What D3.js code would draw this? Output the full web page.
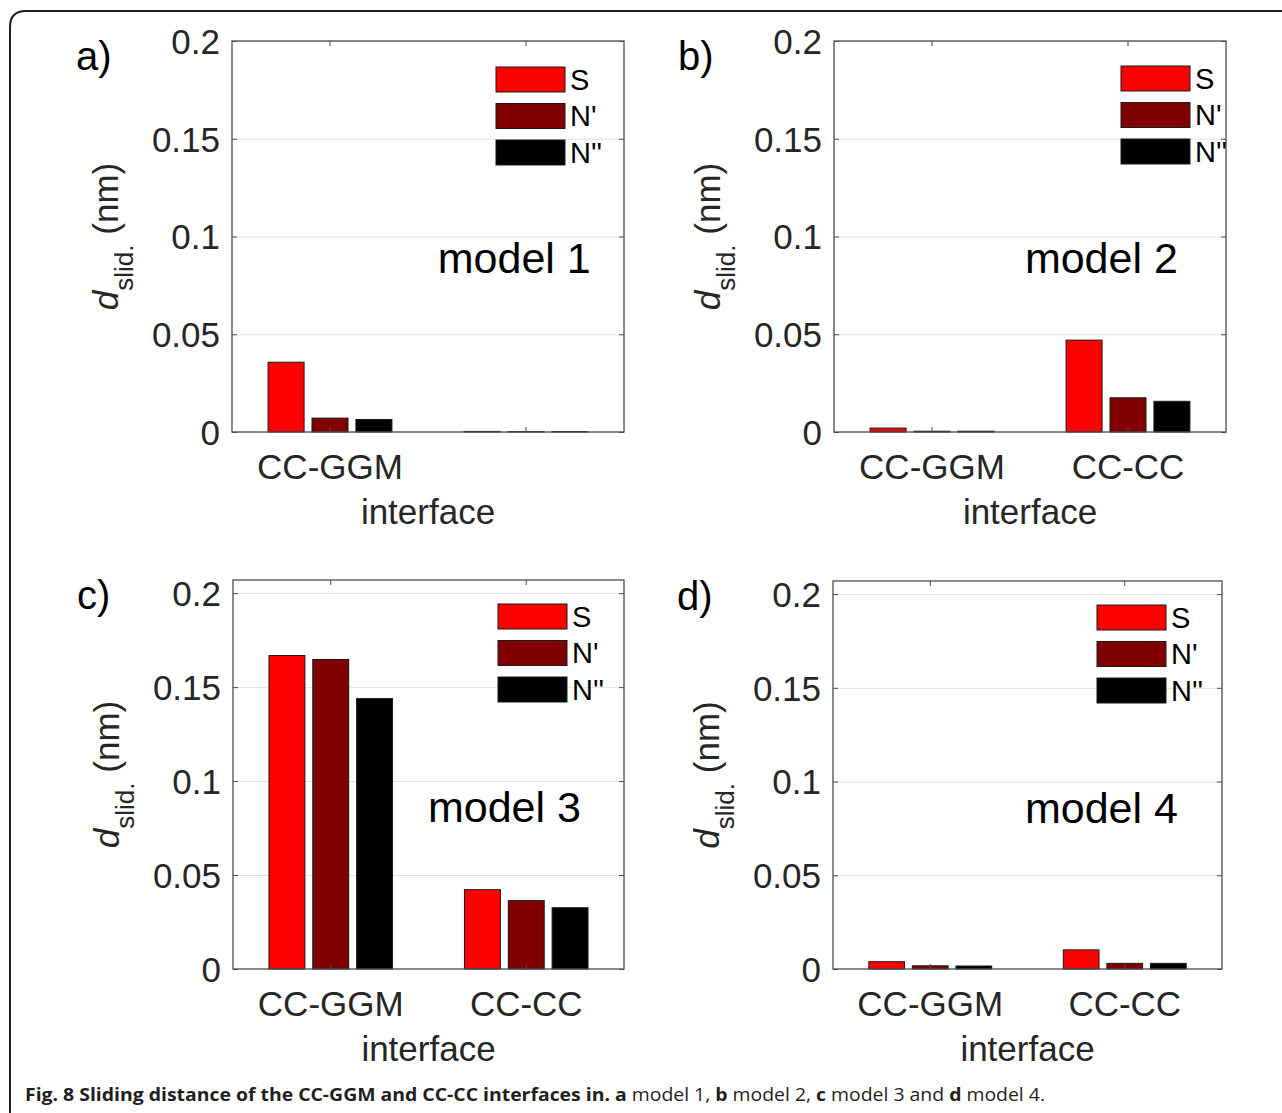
<!DOCTYPE html>
<html>
<head>
<meta charset="utf-8">
<script src="https://cdn.jsdelivr.net/npm/d3@7"></script>
<style>
  body { margin: 0; background: #fff; }
  svg { display: block; }
</style>
</head>
<body>
<svg id="chart" width="1282" height="1113"></svg>
<script>
// categories, series and tick labels
const categories = ["CC-GGM", "CC-CC"];
const seriesNames = ["S", "N'", "N''"];
const seriesColors = ["#ff0000", "#800000", "#000000"];
const yTicks = [0, 0.05, 0.1, 0.15, 0.2];
const yTickLabels = ["0", "0.05", "0.1", "0.15", "0.2"];

// values per model: [series][category]
const model1Values = [[0.0357, 0.0003], [0.0071, 0.0002], [0.0064, 0.0002]];
const model2Values = [[0.0020, 0.0470], [0.0004, 0.0175], [0.0004, 0.0157]];
const model3Values = [[0.1668, 0.0422], [0.1647, 0.0364], [0.1439, 0.0326]];
const model4Values = [[0.0039, 0.0102], [0.0017, 0.0030], [0.0016, 0.0030]];

const panelLetters = ["a)", "b)", "c)", "d)"];
const modelNames = ["model 1", "model 2", "model 3", "model 4"];
const xTickLabels = [["CC-GGM", ""], categories, categories, categories];

// layout of each panel
const panels = [
  { values: model1Values, left: 232, right: 624, top: 41, bottom: 432, ymax: 0.2,   legendX: 496,  legendY: 67,  textX: 1.55, textY: 0.089 },
  { values: model2Values, left: 834, right: 1226, top: 41, bottom: 432, ymax: 0.2,  legendX: 1121, legendY: 66,  textX: 1.474, textY: 0.089 },
  { values: model3Values, left: 233, right: 624, top: 580, bottom: 969, ymax: 0.207, legendX: 498, legendY: 604, textX: 1.497, textY: 0.086 },
  { values: model4Values, left: 833, right: 1222, top: 581, bottom: 969, ymax: 0.207, legendX: 1097, legendY: 605, textX: 1.487, textY: 0.086 }
];

const svg = d3.select("#chart");
const font = "'Liberation Sans', Arial, Helvetica, sans-serif";
const ink = "#262626";

// outer frame
svg.append("path")
  .attr("d", "M1282,11 H26 Q10,11 10,27 V1113")
  .attr("fill", "none")
  .attr("stroke", "#231f20")
  .attr("stroke-width", 2);

panels.forEach((p, i) => {
  const w = p.right - p.left;
  const h = p.bottom - p.top;

  const x = d3.scaleBand().domain(d3.range(categories.length)).range([p.left, p.right]);
  const xs = d3.scaleBand().domain(d3.range(seriesNames.length))
    .range([x.bandwidth() * 0.184, x.bandwidth() * 0.816])
    .paddingInner(0.18);
  const y = d3.scaleLinear().domain([0, p.ymax]).range([p.bottom, p.top]);

  const g = svg.append("g");

  // grid
  g.append("g")
    .attr("transform", `translate(${p.left},0)`)
    .call(d3.axisLeft(y).tickValues(yTicks.slice(1)).tickSize(-w).tickFormat(""))
    .call(s => s.select(".domain").remove())
    .call(s => s.selectAll("line").attr("stroke", "#e3e3e3"));

  // bars
  p.values.forEach((vals, si) => {
    g.append("g").selectAll("rect")
      .data(vals)
      .join("rect")
      .attr("x", (d, ci) => x(ci) + xs(si))
      .attr("width", xs.bandwidth())
      .attr("y", d => y(d))
      .attr("height", d => y(0) - y(d))
      .attr("fill", seriesColors[si])
      .attr("stroke", "#1a1a1a")
      .attr("stroke-width", 1);
  });

  // axes (ticks inward, box on)
  const styleAxis = s => {
    s.select(".domain").remove();
    s.selectAll("line").attr("stroke", "#4d4d4d");
    s.selectAll("text").attr("fill", ink).attr("font-family", font).attr("font-size", 35);
  };
  g.append("g")
    .attr("transform", `translate(${p.left},0)`)
    .call(d3.axisLeft(y).tickValues(yTicks).tickSize(-5).tickPadding(12)
      .tickFormat((d, k) => yTickLabels[k]))
    .call(styleAxis)
    .call(s => s.selectAll("text").attr("dy", "0.35em"));
  g.append("g")
    .attr("transform", `translate(${p.right},0)`)
    .call(d3.axisRight(y).tickValues(yTicks).tickSize(-5).tickFormat(""))
    .call(styleAxis);

  const bottomAxis = d3.axisBottom(x).tickSize(-5).tickPadding(22)
    .tickFormat(k => xTickLabels[i][k]);
  g.append("g")
    .attr("transform", `translate(0,${p.bottom})`)
    .call(bottomAxis)
    .call(styleAxis)
    .call(s => s.selectAll("text").attr("dy", "0.71em"));
  g.append("g")
    .attr("transform", `translate(0,${p.top})`)
    .call(d3.axisTop(x).tickSize(-5).tickFormat(""))
    .call(styleAxis);

  // box
  g.append("rect")
    .attr("x", p.left).attr("y", p.top)
    .attr("width", w).attr("height", h)
    .attr("fill", "none")
    .attr("stroke", "#4d4d4d")
    .attr("stroke-width", 1.3);

  // x label
  g.append("text")
    .attr("x", (p.left + p.right) / 2)
    .attr("y", p.bottom + 92)
    .attr("text-anchor", "middle")
    .attr("font-family", font).attr("font-size", 35).attr("fill", ink)
    .text("interface");

  // y label
  const yl = g.append("text")
    .attr("transform", `translate(${p.left - 114},${(p.top + p.bottom) / 2}) rotate(-90)`)
    .attr("text-anchor", "middle")
    .attr("font-family", font).attr("font-size", 35).attr("fill", ink);
  yl.append("tspan").attr("font-style", "italic").text("d");
  yl.append("tspan").attr("font-size", 26).attr("dy", 15).text("slid.");
  yl.append("tspan").attr("dy", -15).text("\u00a0(nm)");

  // panel letter
  g.append("text")
    .attr("x", p.left - 156)
    .attr("y", p.top + 29)
    .attr("font-family", font).attr("font-size", 40).attr("fill", "#000")
    .text(panelLetters[i]);

  // model annotation
  const xm = d3.scaleLinear().domain([0.5, categories.length + 0.5]).range([p.left, p.right]);
  g.append("text")
    .attr("x", xm(p.textX))
    .attr("y", y(p.textY))
    .attr("dy", "0.35em")
    .attr("font-family", font).attr("font-size", 43).attr("fill", "#000")
    .text(modelNames[i]);

  // legend
  const lg = g.append("g").attr("transform", `translate(${p.legendX},${p.legendY})`);
  seriesNames.forEach((name, si) => {
    lg.append("rect")
      .attr("x", 0).attr("y", si * 36.5)
      .attr("width", 69).attr("height", 25)
      .attr("fill", seriesColors[si])
      .attr("stroke", "#1a1a1a").attr("stroke-width", 1);
    lg.append("text")
      .attr("x", 74).attr("y", si * 36.5 + 12.5)
      .attr("dy", "0.36em")
      .attr("font-family", font).attr("font-size", 29).attr("fill", "#000")
      .text(name);
  });
});

// caption
const cap = svg.append("text")
  .attr("x", 25).attr("y", 1101)
  .attr("font-family", "'Open Sans', 'Noto Sans', sans-serif")
  .attr("font-size", 18).attr("fill", "#231f20")
  .attr("textLength", 1020).attr("lengthAdjust", "spacingAndGlyphs");
const capParts = [
  ["Fig. 8 Sliding distance of the CC-GGM and CC-CC interfaces in. ", true],
  ["a", true], [" model 1, ", false],
  ["b", true], [" model 2, ", false],
  ["c", true], [" model 3 and ", false],
  ["d", true], [" model 4.", false]
];
capParts.forEach(([t, bold]) => {
  cap.append("tspan").attr("font-weight", bold ? 700 : 400).text(t);
});
</script>
</body>
</html>
